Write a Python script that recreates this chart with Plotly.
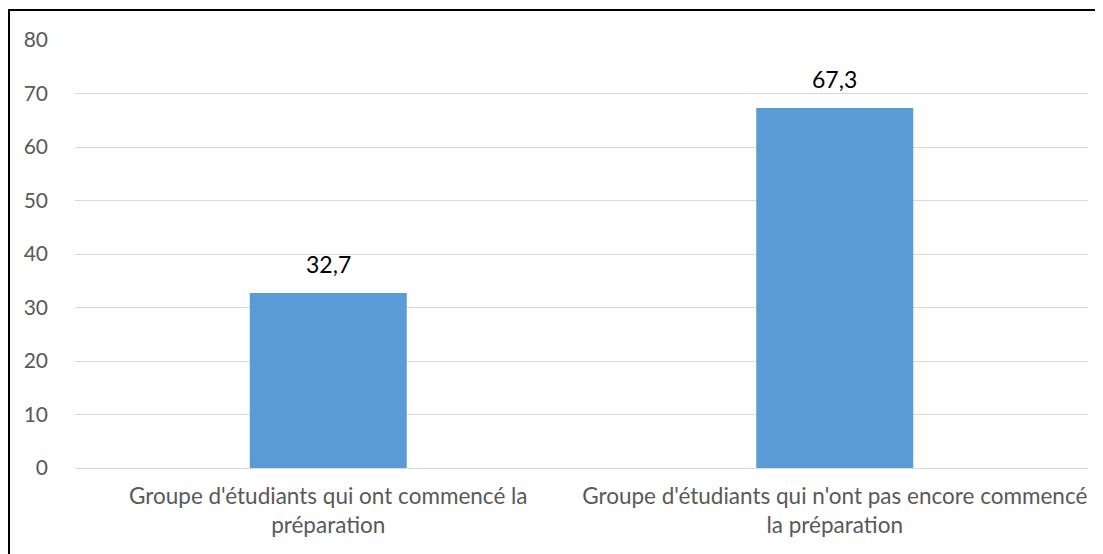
import plotly.graph_objects as go

categories = ["Groupe d'étudiants qui ont commencé la<br>préparation",
              "Groupe d'étudiants qui n'ont pas encore commencé<br>la préparation"]
values = [32.7, 67.3]
labels = ["32,7", "67,3"]
y_ticks = [0, 10, 20, 30, 40, 50, 60, 70, 80]

# body margin of 8px in the page -> figure origin at page (8, 8)
OFF = 8
W, H = 1103 - OFF, 554 - OFF
L, T = 75 - OFF, 40 - OFF
R = W - (1088 - OFF)
B = H - (468 - OFF)
pw, ph = W - L - R, H - T - B

FONT = "Lato"

fig = go.Figure(go.Bar(
    x=categories, y=values,
    marker=dict(color="#5b9bd5", line=dict(width=0)),
    hoverinfo="skip",
))

for c, v, t in zip(categories, values, labels):
    fig.add_annotation(x=c, y=v, text=t, showarrow=False, yanchor="bottom",
                       yshift=13, font=dict(family=FONT, size=23, color="#000000"))

fig.update_layout(
    width=W, height=H,
    margin=dict(l=L, r=R, t=T, b=B),
    plot_bgcolor="white", paper_bgcolor="white",
    bargap=0.69,
    showlegend=False,
    font=dict(family=FONT, color="#595959", size=21),
    xaxis=dict(showgrid=False, showline=True, linecolor="#d9d9d9", linewidth=1,
               ticks="", ticklabelstandoff=8,
               tickfont=dict(family=FONT, size=22.5, color="#595959")),
    yaxis=dict(range=[0, 80], tickvals=y_ticks, showgrid=True, gridcolor="#d9d9d9",
               gridwidth=1, zeroline=False, showline=False, ticks="",
               ticklabelstandoff=26,
               tickfont=dict(family=FONT, size=21, color="#595959")),
    shapes=[dict(type="rect", xref="paper", yref="paper",
                 x0=(1 - L) / pw, x1=(W + 10 - L) / pw,
                 y0=-(B + 10) / ph, y1=(ph + T - 2) / ph,
                 line=dict(color="black", width=2), fillcolor="rgba(0,0,0,0)")],
)

fig.write_html("out.html")
